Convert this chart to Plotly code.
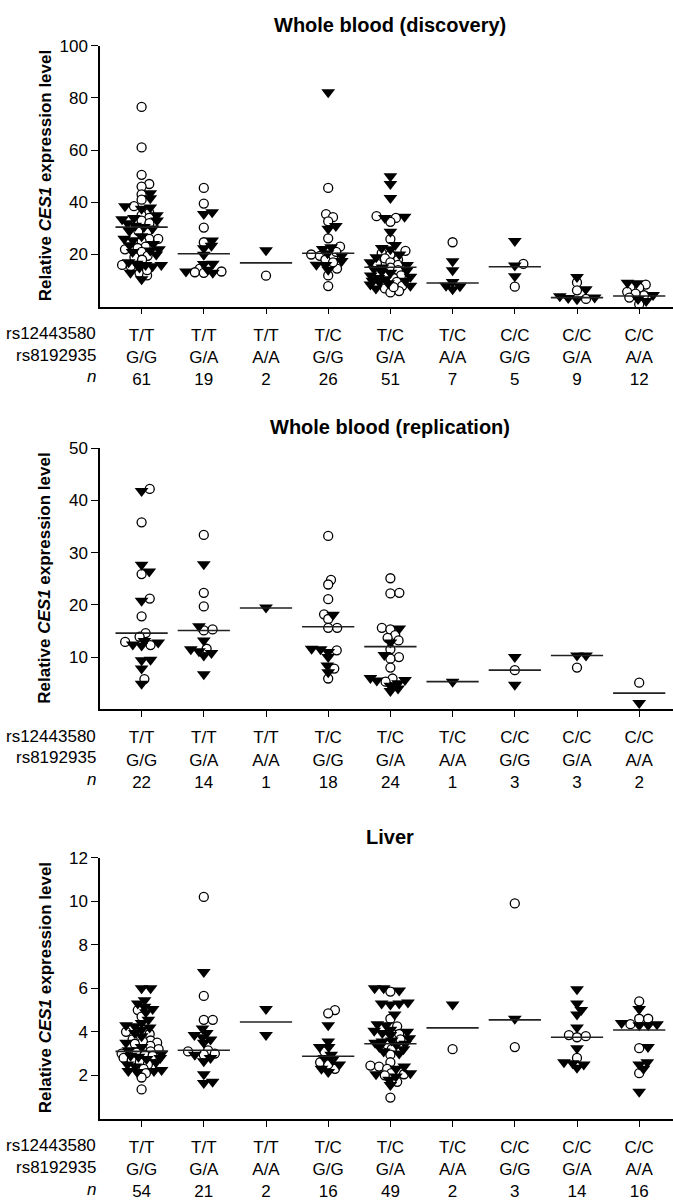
import numpy as np
import plotly.graph_objects as go

W, H = 673, 1201
FONT = "Liberation Sans, Arial, Helvetica, sans-serif"

# Genotype groups (x axis)
rs12443580 = ["T/T", "T/T", "T/T", "T/C", "T/C", "T/C", "C/C", "C/C", "C/C"]
rs8192935 = ["G/G", "G/A", "A/A", "G/G", "G/A", "A/A", "G/G", "G/A", "A/A"]

# ---- Whole blood (discovery) ----
disc_n = [61, 19, 2, 26, 51, 7, 5, 9, 12]
disc_circles = [
    [76.5, 61, 50.5, 47, 46, 43, 41, 38.5, 36, 35, 34, 33, 32, 29, 28.5, 26, 26, 25, 23,
     22.5, 22, 21, 19.5, 19, 18, 16, 15.5, 13, 12, 14],
    [45.5, 39.5, 30.3, 24.7, 14.6, 13.2, 13, 13.5],
    [11.9],
    [45.5, 35.5, 34.3, 32.7, 26.2, 23, 20, 19.5, 19, 18, 14.6, 12, 7.9, 17, 21],
    [34.7, 34, 32.5, 25.9, 21.4, 20.5, 20, 18.5, 18, 17, 16.5, 16, 15, 14, 12, 11, 9.5,
     8, 7, 6, 5.5, 7.5],
    [24.7],
    [16.4, 7.7],
    [9.3, 6.3, 3],
    [8.5, 7.2, 5.7, 4.4, 5, 1, 3.5],
]
disc_triangles = [
    [43.5, 41.5, 38.5, 38, 37.5, 35, 34, 33.5, 33, 32, 31, 30.5, 30, 29, 27, 26, 25.5, 24,
     23.5, 22, 21.5, 21, 20, 17, 16.5, 16, 16, 15.5, 15, 13, 10.5],
    [36.2, 35.5, 25.4, 23.4, 22.4, 19.9, 16.4, 16.5, 14.2, 13.5, 13],
    [21.6],
    [82.1, 30.9, 29.9, 22.8, 22.1, 20.5, 19.5, 17.5, 16.1, 14.2, 16],
    [50, 47, 41.6, 34, 34.5, 28.7, 23.6, 22.5, 22, 20, 19, 17, 16, 15, 14.5, 14, 13.5, 13,
     12, 11.5, 11, 10.5, 10, 10, 9.5, 9, 8.5, 8, 7],
    [17.4, 14, 8, 6.7, 7.8, 9.5],
    [25.2, 15.8, 11.7],
    [11.4, 6.7, 3.5, 2.9, 3.3, 4],
    [9.2, 9, 4.5, 2.2, 3],
]
disc_medians = [30.5, 20.3, 16.8, 20.5, 15.1, 9.1, 15.3, 3.5, 4.1]

# ---- Whole blood (replication) ----
repl_n = [22, 14, 1, 18, 24, 1, 3, 3, 2]
repl_circles = [
    [42.2, 35.8, 25.9, 21.2, 17.8, 14.6, 13.9, 12.3, 5.8, 12.9],
    [33.4, 22.3, 19.7, 15.1, 11.6, 15.3],
    [],
    [33.2, 24.8, 23.9, 21.1, 18.2, 17.3, 15.6, 15.6, 11.3, 7.8, 5.9],
    [25.1, 22.2, 22.3, 15.6, 15.3, 14.2, 13.7, 13.2, 11.5, 10, 9.7, 8, 5.9, 5.3],
    [],
    [7.5],
    [8],
    [5.1],
]
repl_triangles = [
    [41.8, 27.7, 26.4, 20.8, 13.1, 12.8, 12.4, 9.5, 9.4, 7.8, 4.9, 12.2],
    [27.8, 15.9, 13.2, 11.1, 10.3, 6.7, 11.5, 10.8],
    [19.5],
    [18.1, 11.6, 11, 10, 8.4, 7.1, 11.5],
    [15.5, 12.8, 10.4, 5.6, 5.5, 5, 4.5, 4, 6, 3.5],
    [5.3],
    [10, 4.7],
    [10.3, 10.3],
    [1.2],
]
repl_medians = [14.6, 15.1, 19.4, 15.8, 12.0, 5.3, 7.5, 10.3, 3.1]

# ---- Liver ----
liver_n = [54, 21, 2, 16, 49, 2, 3, 14, 16]
liver_circles = [
    [5.0, 4.7, 4.0, 3.9, 3.65, 3.6, 3.55, 3.5, 3.45, 3.35, 3.2, 3.1, 3.05, 3.0, 2.95, 2.9,
     2.8, 2.7, 2.6, 2.5, 2.3, 2.1, 1.9, 1.35],
    [10.2, 5.65, 4.55, 4.55, 3.15, 3.1, 3.0, 2.95],
    [],
    [5.0, 4.85, 3.1, 2.6, 2.3, 2.5],
    [5.85, 4.6, 4.25, 3.9, 3.65, 3.4, 3.2, 2.95, 2.6, 2.45, 2.4, 2.3, 2.1, 2.05, 2.0, 1.7, 0.98],
    [3.2],
    [9.9, 3.3],
    [3.85, 3.75, 3.8, 2.8],
    [5.4, 4.6, 4.6, 4.35, 3.25, 2.1],
]
liver_triangles = [
    [6.0, 6.0, 5.45, 5.3, 5.15, 5.05, 4.9, 4.55, 4.4, 4.3, 4.25, 4.2, 4.1, 3.95, 3.8, 3.5,
     3.3, 3.15, 3.0, 2.9, 2.85, 2.8, 2.75, 2.6, 2.5, 2.4, 2.25, 2.2, 2.2, 2.15],
    [6.75, 4.15, 3.95, 3.85, 3.75, 3.65, 3.5, 2.95, 2.8, 2.65, 2.05, 1.65, 1.7],
    [5.05, 3.85],
    [4.3, 3.55, 3.3, 3.3, 2.95, 2.8, 2.7, 2.5, 2.3, 2.15],
    [6.0, 6.0, 5.9, 5.35, 5.3, 5.3, 5.25, 4.8, 4.35, 4.3, 4.1, 4.05, 4.0, 3.95, 3.85, 3.7,
     3.6, 3.55, 3.5, 3.45, 3.4, 3.3, 3.2, 3.1, 3.0, 2.4, 2.3, 2.1, 2.05, 1.95, 1.8, 1.55],
    [5.25],
    [4.6],
    [5.95, 5.3, 5.0, 4.8, 4.2, 3.25, 2.6, 2.5, 2.35, 2.55],
    [5.05, 4.4, 4.3, 4.3, 4.35, 3.3, 2.6, 2.5, 2.3, 1.25],
]
liver_medians = [3.1, 3.15, 4.45, 2.88, 3.45, 4.18, 4.55, 3.75, 4.08]

panels = [
    dict(title="Whole blood (discovery)", n=disc_n, circ=disc_circles, tri=disc_triangles,
         med=disc_medians, ymax=100, ticks=[20, 40, 60, 80, 100], top=37, bottom=301),
    dict(title="Whole blood (replication)", n=repl_n, circ=repl_circles, tri=repl_triangles,
         med=repl_medians, ymax=50, ticks=[10, 20, 30, 40, 50], top=444, bottom=708),
    dict(title="Liver", n=liver_n, circ=liver_circles, tri=liver_triangles,
         med=liver_medians, ymax=12, ticks=[2, 4, 6, 8, 10, 12], top=858, bottom=1122),
]

# horizontal geometry (pixels)
AXIS_LEFT = 100
GROUP0 = 141.6
GROUP_STEP = 62.2
x_lo = (AXIS_LEFT - GROUP0) / GROUP_STEP
x_hi = (W - GROUP0) / GROUP_STEP
HALF_LINE = 0.42
# elliptical footprint for the swarm layout (px) and the widest allowed offset
DX, DY = 9.0, 5.0
LIMIT = 20.0


def swarm(values, px_per_unit):
    """Beeswarm offsets (px) so that markers in a column do not pile up."""
    vals = np.asarray(values, dtype=float)
    order = np.argsort(vals, kind="stable")
    placed = []
    xs = np.zeros(len(vals))
    grid = np.linspace(-LIMIT, LIMIT, 41)
    for i in order:
        y = vals[i] * px_per_unit * DX / DY
        cands = [0.0]
        for px_, py_ in placed:
            dy = y - py_
            if abs(dy) < DX:
                dx = np.sqrt(DX ** 2 - dy ** 2)
                cands += [px_ + dx, px_ - dx]
        cands = [c for c in cands if abs(c) <= LIMIT]
        cands.sort(key=lambda c: (round(abs(c), 6), -c))
        chosen = None
        for c in cands:
            if all((c - px_) ** 2 + (y - py_) ** 2 >= DX ** 2 - 1e-6 for px_, py_ in placed):
                chosen = c
                break
        if chosen is None:
            # crowded row: take the least overlapping spot inside the limit
            best = None
            for c in sorted(grid, key=lambda c: (abs(c), -c)):
                d = min((c - px_) ** 2 + (y - py_) ** 2 for px_, py_ in placed)
                if best is None or d > best[0] + 1e-9:
                    best = (d, c)
            chosen = best[1]
        xs[i] = chosen
        placed.append((chosen, y))
    return xs


def py(px):
    return 1 - px / H


fig = go.Figure()
annotations = []
layout_axes = {}

for k, p in enumerate(panels):
    xa = "x" if k == 0 else f"x{k + 1}"
    ya = "y" if k == 0 else f"y{k + 1}"
    px_per_unit = (p["bottom"] - p["top"]) / p["ymax"]

    cx, cy, tx, ty = [], [], [], []
    for g in range(9):
        c, t = p["circ"][g], p["tri"][g]
        assert len(c) + len(t) == p["n"][g], (p["title"], g, len(c) + len(t))
        vals = list(c) + list(t)
        offs = swarm(vals, px_per_unit) / GROUP_STEP
        for j, v in enumerate(vals):
            if j < len(c):
                cx.append(g + offs[j]); cy.append(v)
            else:
                tx.append(g + offs[j]); ty.append(v)

    fig.add_trace(go.Scatter(
        x=cx, y=cy, mode="markers", xaxis=xa, yaxis=ya, showlegend=False,
        marker=dict(symbol="circle", size=9, color="white",
                    line=dict(color="black", width=1.3)),
        cliponaxis=False))
    fig.add_trace(go.Scatter(
        x=tx, y=ty, mode="markers", xaxis=xa, yaxis=ya, showlegend=False,
        marker=dict(symbol="triangle-down", size=12, color="black",
                    line=dict(color="black", width=0)),
        cliponaxis=False))

    lx, ly = [], []
    for g, m in enumerate(p["med"]):
        lx += [g - HALF_LINE, g + HALF_LINE, None]
        ly += [m, m, None]
    fig.add_trace(go.Scatter(
        x=lx, y=ly, mode="lines", xaxis=xa, yaxis=ya, showlegend=False,
        line=dict(color="#222222", width=1.6), cliponaxis=False))

    ticktext = [f"{a}<br>{b}<br>{n}" for a, b, n in zip(rs12443580, rs8192935, p["n"])]
    suffix = "" if k == 0 else str(k + 1)
    layout_axes["xaxis" + suffix] = dict(
        domain=[AXIS_LEFT / W, 1], range=[x_lo, x_hi], anchor=ya,
        tickvals=list(range(9)), ticktext=ticktext, ticks="outside", ticklen=6,
        tickwidth=1.3, tickcolor="black", showline=True, linecolor="black",
        linewidth=1.5, showgrid=False, zeroline=False, ticklabelstandoff=6,
        tickfont=dict(family=FONT, size=17, color="black"))
    layout_axes["yaxis" + suffix] = dict(
        domain=[py(p["bottom"]), py(p["top"])], range=[0, p["ymax"]], anchor=xa,
        tickvals=p["ticks"], ticks="outside", ticklen=7, tickwidth=1.3,
        tickcolor="black", showline=True, linecolor="black", linewidth=1.5,
        showgrid=False, zeroline=False,
        tickfont=dict(family=FONT, size=17, color="black"))

    # panel title
    annotations.append(dict(
        text=f"<b>{p['title']}</b>", x=(GROUP0 + 4 * GROUP_STEP) / W,
        y=py(p["top"] - 21), xref="paper", yref="paper", showarrow=False,
        xanchor="center", yanchor="middle",
        font=dict(family=FONT, size=20, color="black")))
    # y-axis title
    annotations.append(dict(
        text="<b>Relative <i>CES1</i> expression level</b>", textangle=-90,
        x=45 / W, y=py((p["top"] + p["bottom"]) / 2), xref="paper", yref="paper",
        showarrow=False, xanchor="center", yanchor="middle",
        font=dict(family=FONT, size=17, color="black")))
    # row headers for the genotype labels
    for r, lab in enumerate(["rs12443580", "rs8192935", "<i>n</i>"]):
        annotations.append(dict(
            text=lab, x=(AXIS_LEFT - 2) / W, y=py(p["bottom"] + 27 + 22 * r),
            xref="paper", yref="paper", showarrow=False, xanchor="right",
            yanchor="middle", font=dict(family=FONT, size=17, color="black")))

fig.update_layout(
    width=W, height=H, margin=dict(l=0, r=0, t=0, b=0),
    paper_bgcolor="white", plot_bgcolor="white",
    annotations=annotations, **layout_axes)

fig.write_html("out.html", config=dict(displayModeBar=False))
